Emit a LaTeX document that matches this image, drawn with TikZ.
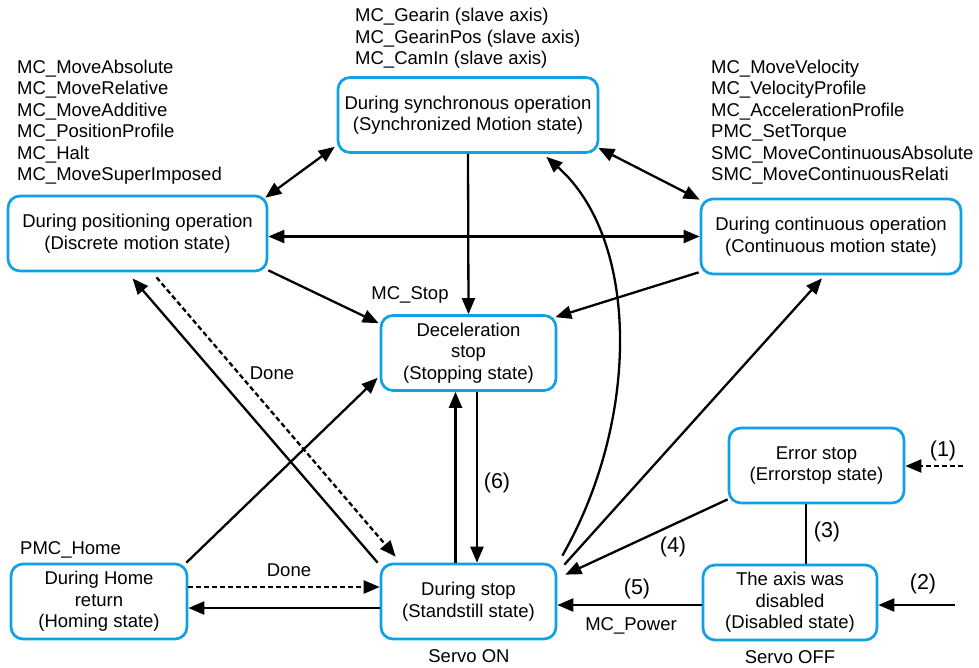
\documentclass[tikz,border=0pt]{standalone}
\usepackage{fontspec}
\setmainfont{Liberation Sans}
\usetikzlibrary{arrows.meta,calc}
\definecolor{boxblue}{RGB}{15,160,230}
\begin{document}
\begin{tikzpicture}[x=1pt,y=-1pt,
  every node/.style={font=\fontsize{18.5}{21.5}\selectfont, inner sep=0pt},
  statebox/.style={draw=boxblue, line width=2.7pt, rounded corners=12pt, align=center, minimum height=75pt},
  conn/.style={line width=2.3pt, -{Triangle[length=16pt,width=13pt]}},
  dconn/.style={line width=2.3pt, {Triangle[length=16pt,width=13pt]}-{Triangle[length=16pt,width=13pt]}},
  plain/.style={line width=2.3pt},
  dash5/.style={dash pattern=on 5pt off 3pt},
  numlbl/.style={font=\fontsize{21.5}{24}\selectfont},
  lbl/.style={align=left, anchor=west}]
\useasboundingbox (0,0) rectangle (979,667);
% states
\node[statebox, minimum width=259pt] (pos) at (137.5,233.5) {During positioning operation\\(Discrete motion state)};
\node[statebox, minimum width=260pt] (sync) at (468,115) {During synchronous operation\\(Synchronized Motion state)};
\node[statebox, minimum width=260pt] (cont) at (831,236.5) {During continuous operation\\(Continuous motion state)};
\node[statebox, minimum width=175pt] (decel) at (468.5,353) {Deceleration\\stop\\(Stopping state)};
\node[statebox, minimum width=175pt] (err) at (816.5,465.5) {Error stop\\(Errorstop state)};
\node[statebox, minimum width=174pt] (dis) at (790,602.5) {The axis was\\disabled\\(Disabled state)};
\node[statebox, minimum width=175pt] (stand) at (468.5,601.5) {During stop\\(Standstill state)};
\node[statebox, minimum width=176pt] (home) at (99,601.5) {During Home\\return\\(Homing state)};
% text lists
\node[lbl] (poslist) at (17,122) {MC\_MoveAbsolute\\MC\_MoveRelative\\MC\_MoveAdditive\\MC\_PositionProfile\\MC\_Halt\\MC\_MoveSuperImposed};
\node[lbl] (synclist) at (355,38.5) {MC\_Gearin (slave axis)\\MC\_GearinPos (slave axis)\\MC\_CamIn (slave axis)};
\node[lbl] (contlist) at (711,122) {MC\_MoveVelocity\\MC\_VelocityProfile\\MC\_AccelerationProfile\\PMC\_SetTorque\\SMC\_MoveContinuousAbsolute\\SMC\_MoveContinuousRelati};
\node[lbl] (homelbl) at (20,550) {PMC\_Home};
\node (stoplbl) at (410,295) {MC\_Stop};
\node (done1) at (272,373) {Done};
\node (done2) at (289,570) {Done};
\node (servoon) at (469,656) {Servo ON};
\node (servooff) at (790,657) {Servo OFF};
\node[numlbl] (l1) at (943,451) {(1)};
\node[numlbl] (l2) at (923,584) {(2)};
\node[numlbl] (l3) at (827,532) {(3)};
\node[numlbl] (l4) at (673,547) {(4)};
\node[numlbl] (l5) at (637,589) {(5)};
\node[numlbl] (l6) at (497,483) {(6)};
\node (pwr) at (631,626) {MC\_Power};
% free ends
\coordinate (in1) at (963,466);
\coordinate (in2) at (955,605);
% connectors
\draw[dconn] ($(pos.north east)+(-3,3)$) -- ($(sync.south west)+(-2,-7)$);
\draw[dconn] ($(sync.south east)+(-1,-6)$) -- ($(cont.north west)+(0,2)$);
\draw[dconn] (pos.east |- cont.west) -- (cont.west);
\draw[conn] ($(pos.south east)+(0,-2)$) -- ($(decel.north west)+(-1,9)$);
\draw[conn] (sync.south) -- (decel.north);
\draw[conn] ($(cont.south west)+(-1,-3)$) -- ($(decel.north east)+(-2,3)$);
\draw[conn] ($(stand.north)+(-13,0)$) -- ($(decel.south)+(-13,0)$);
\draw[conn] ($(decel.south)+(8.5,0)$) -- ($(stand.north)+(8.5,0)$);
\draw[conn] ($(stand.north west)+(-2,0)$) -- ($(pos.south)+(-5,6)$);
\draw[conn, dash5] ($(pos.south)+(19,5)$) -- ($(stand.north west)+(16,-6)$);
\draw[conn] ($(home.north east)+(-2,0)$) -- ($(decel.south west)+(-2,-14)$);
\draw[conn, dash5] ($(home.east)+(0,-14.5)$) -- ($(stand.west)+(0,-14.5)$);
\draw[conn] ($(stand.west)+(0,6.5)$) -- ($(home.east)+(0,6.5)$);
\draw[conn] ($(stand.north east)+(5,-7)$) .. controls (640,420) and (640,240) .. ($(sync.south east)+(-53,3)$);
\draw[conn] ($(stand.north east)+(7,2)$) -- ($(cont.south)+(-9,3)$);
\draw[conn] ($(err.south west)+(0,-5)$) -- ($(stand.north east)+(8,12)$);
\draw[plain] ($(err.south)+(-10.5,0)$) -- ($(dis.north)+(16,0)$);
\draw[conn] ($(dis.west)+(0,2.5)$) -- ($(stand.east)+(0,3.5)$);
\draw[conn] (in2) -- (dis.east |- in2);
\draw[conn, dash5] (in1) -- (err.east |- in1);
\end{tikzpicture}
\end{document}
